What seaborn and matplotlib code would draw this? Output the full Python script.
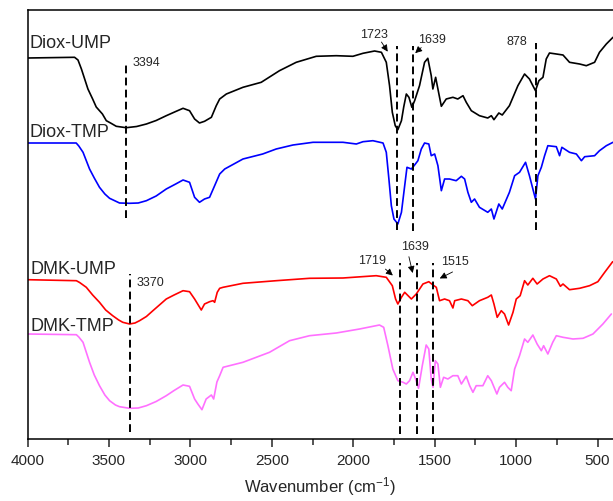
import numpy as np
import pandas as pd
import matplotlib
matplotlib.use("Agg")
import matplotlib.pyplot as plt
import seaborn as sns

# FTIR spectra, y = offset transmittance (arb. units)
diox_ump_wn = [4000, 3711, 3690, 3669, 3629, 3600, 3578, 3540, 3516, 3490, 3455, 3394, 3330, 3270, 3210,
               3148, 3090, 3045, 3005, 2974, 2944, 2913,
               2871, 2841, 2820, 2779, 2677, 2565, 2453, 2350, 2227, 2104, 2002, 1940, 1869, 1827, 1797,
               1777, 1760, 1742, 1726, 1704, 1690, 1674, 1658, 1640, 1623, 1593, 1562, 1542, 1521, 1511,
               1494, 1480, 1459, 1429, 1388, 1358, 1326, 1306, 1275, 1225, 1174, 1152, 1136, 1106, 1085,
               1041, 989, 948, 918, 897, 881, 860, 835, 815, 795, 753, 712, 672, 610, 569, 518, 488, 446, 405]
diox_ump_y = [381, 381.7, 379, 370, 350, 340, 332, 325, 318.3, 316, 312.7, 311.3, 312.5, 315, 318.5,
              323.3, 327.5, 330.7, 328.3, 320, 316, 317.7,
              321.7, 333.3, 340, 345, 351.7, 356.7, 368.3, 376.7, 382.7, 383.3, 382.7, 385.7, 388, 386.7, 376.7,
              353.3, 326.7, 313.3, 309.3, 318.3, 332, 345, 341.7, 331.7, 338.3, 353.3, 376.7, 380.7, 363.3, 350,
              361.7, 350, 332.7, 340, 341.7, 340, 343.3, 336.7, 328.3, 323.3, 321, 323.3, 319.3, 326, 324,
              333.3, 353.3, 365, 360, 353.3, 348.3, 358.3, 361.7, 380, 386, 385, 384, 376.7, 375, 373.3, 376.7,
              386.7, 395, 401.7]

diox_tmp_wn = [4000, 3701, 3685, 3659, 3619, 3590, 3558, 3525, 3496, 3435, 3373, 3320, 3270, 3210, 3148,
               3090, 3045, 3005, 2974, 2944, 2913,
               2882, 2851, 2820, 2789, 2677, 2556, 2473, 2370, 2247, 2063, 1981, 1940, 1879, 1817, 1797,
               1781, 1766, 1750, 1726, 1704, 1684, 1670, 1643, 1623, 1603, 1582, 1562, 1536, 1521, 1500,
               1480, 1459, 1439, 1409, 1368, 1336, 1316, 1296, 1275, 1255, 1225, 1174, 1152, 1136, 1106,
               1085, 1041, 1009, 979, 942, 918, 897, 881, 866, 845, 825, 805, 753, 733, 719, 672, 630,
               599, 579, 518, 488, 446, 405]
diox_tmp_y = [296, 296, 293, 286.7, 270, 261, 251.7, 245, 240.7, 236, 235.7, 236, 238.3, 243, 250,
              255, 259, 256.7, 241.7, 236.7, 240,
              241.7, 253.3, 265, 270, 280, 285, 290, 294, 296.7, 296.7, 295, 297.3, 298.3, 296, 286.7,
              260, 233.3, 220, 215, 226.7, 253.3, 271.7, 270, 274, 278.3, 290, 296, 295, 283.3, 285,
              273.3, 248.3, 260, 260, 258.3, 262.7, 260, 246.7, 236.7, 240, 231.7, 226.7, 230, 220, 235,
              230, 246.7, 263.3, 266.7, 276.7, 263.3, 250, 240, 263.3, 271.7, 283.3, 293.3, 292.3, 283.3,
              291.7, 286.7, 285, 278.3, 282.3, 283.3, 288.3, 293.3, 296.7]

dmk_ump_wn = [4000, 3700, 3680, 3639, 3600, 3558, 3520, 3477, 3440, 3415, 3373, 3340, 3312, 3270, 3230,
              3190, 3148, 3100, 3045, 3005, 2974, 2933, 2913,
              2882, 2861, 2851, 2835, 2820, 2799, 2677, 2473, 2268, 2063, 1859, 1797, 1760, 1740, 1726,
              1704, 1684, 1643, 1613, 1572, 1536, 1510, 1490, 1470, 1439, 1409, 1388, 1377, 1336, 1296,
              1269, 1225, 1174, 1152, 1136, 1116, 1091, 1071, 1046, 1019, 999, 975, 948, 928, 897, 871,
              835, 795, 753, 728, 712, 672, 610, 549, 498, 456, 407]
dmk_ump_y = [159.3, 158.3, 156.5, 151.7, 144, 136.7, 129, 123.3, 119, 116.7, 115, 116, 118.3, 122.5, 128.3,
             134, 140, 144, 148.3, 147.3, 140, 129, 135,
             137.3, 138.3, 136.7, 146.7, 150.7, 151.7, 155.7, 158.3, 160.7, 161, 163.3, 161.7, 153.3, 140, 135,
             141.7, 146.7, 140, 145, 155, 157.3, 154, 151.7, 138.3, 140, 138.3, 131, 138.3, 140, 138.3,
             133.3, 138.3, 141.7, 144, 135, 121.7, 128.3, 125, 114, 126.7, 140, 143.3, 158.3, 154, 160.7, 155,
             160, 163.3, 160, 152.7, 155, 149.3, 150.7, 153.3, 157.3, 166.7, 177.3]

dmk_tmp_wn = [4000, 3700, 3685, 3659, 3619, 3590, 3558, 3525, 3496, 3460, 3435, 3373, 3320, 3270, 3210,
              3148, 3100, 3045, 3005, 2974, 2954, 2929,
              2903, 2871, 2857, 2837, 2820, 2799, 2677, 2514, 2391, 2268, 2104, 1961, 1839, 1813, 1787,
              1757, 1726, 1694, 1674, 1654, 1633, 1617, 1599, 1576, 1552, 1536, 1521, 1510, 1496, 1480,
              1465, 1445, 1419, 1388, 1358, 1336, 1306, 1285, 1265, 1245, 1204, 1174, 1152, 1118, 1102,
              1071, 1051, 1030, 1009, 979, 948, 928, 897, 871, 845, 831, 805, 775, 753, 712, 651, 589,
              528, 467, 415]
dmk_tmp_y = [105, 104.3, 102, 96.7, 76.7, 64, 53.3, 44, 38.3, 34, 32.3, 30.7, 31, 33.3, 37.5,
             43.3, 48.5, 54, 52.7, 40, 35, 29.3,
             40, 44, 40, 57, 63.3, 71.7, 76.7, 86.7, 98.3, 103.3, 106, 110, 114, 111.7, 93.3,
             70, 58.3, 56.7, 55, 58.3, 66.7, 60, 50.7, 73.3, 94, 90, 60, 51.7, 78.3, 75,
             51.7, 61.7, 60, 63.3, 63.3, 55, 62.7, 53.3, 46.7, 53.3, 53.3, 63.3, 58.3, 45, 51.7,
             56.7, 51.7, 48.3, 70, 83.3, 100, 96.7, 104, 95, 88.3, 93.3, 85, 96.7, 103.3, 101.7, 100, 100.7,
             105, 115, 125]

series_names = ["Diox-UMP", "Diox-TMP", "DMK-UMP", "DMK-TMP"]
series_colors = ["black", "#0000FF", "#FF0000", "#FF70FF"]
label_wn = [3989, 3989, 3980, 3980]
label_y = [392, 303.3, 165.7, 109]

# dashed marker lines: (wavenumber, ymin, ymax)
upper_lines = [(3394, 221, 377), (1733, 209, 393), (1631, 208, 393), (878, 209, 396)]
lower_lines = [(3371, 7, 165), (1713, 5, 176), (1607, 5, 176), (1510, 5, 176)]

# peak labels without arrows
plain_peaks = [("3394", 3352, 376.5), ("878", 995, 398.3), ("3370", 3330, 156.7)]
# peak labels with arrows: text, text pos, arrow tail, arrow tip
arrow_peaks = [("1723", (1874, 404.7), (1836, 399.3), (1779, 385)),
               ("1639", (1516, 400), (1570, 393.3), (1632, 384)),
               ("1719", (1887, 179.3), (1815, 171.7), (1744, 161.7)),
               ("1639", (1621, 192.7), (1662, 185), (1631, 163.3)),
               ("1515", (1375, 178.3), (1375, 168.3), (1484, 159.3))]

sns.set_theme(style="ticks")
plt.rcParams['font.family'] = ['Liberation Sans', 'DejaVu Sans']
plt.rcParams['mathtext.fontset'] = 'custom'
plt.rcParams['mathtext.rm'] = 'Liberation Sans'
plt.rcParams['mathtext.it'] = 'Liberation Sans'

fig = plt.figure(figsize=(6.13, 5.02), dpi=100)
ax = fig.add_axes([27.5 / 613, 62 / 502, 585.5 / 613, 429 / 502])

all_wn = [diox_ump_wn, diox_tmp_wn, dmk_ump_wn, dmk_tmp_wn]
all_y = [diox_ump_y, diox_tmp_y, dmk_ump_y, dmk_tmp_y]
for wn, y, name, col in zip(all_wn, all_y, series_names, series_colors):
    df = pd.DataFrame({"wn": wn, "y": y})
    sns.lineplot(data=df, x="wn", y="y", color=col, lw=1.2, ax=ax, sort=False)

for name, xw, yy in zip(series_names, label_wn, label_y):
    ax.text(xw, yy, name, fontsize=13, ha="left", va="baseline")

for x, y0, y1 in upper_lines + lower_lines:
    ax.plot([x, x], [y0, y1], color="black", lw=1.4, linestyle=(0, (4, 2.2)))

for txt, xw, yy in plain_peaks:
    ha = "center" if txt == "878" else "left"
    ax.text(xw, yy, txt, fontsize=9, ha=ha, va="center")

for txt, tpos, tail, tip in arrow_peaks:
    ax.text(tpos[0], tpos[1], txt, fontsize=9, ha="center", va="center")
    ax.annotate("", xy=tip, xytext=tail,
                arrowprops=dict(arrowstyle="-|>", color="black", lw=0.6, mutation_scale=10))

ax.set_xlim(4000, 405)
ax.set_ylim(0, 429)
ax.set_xticks([4000, 3500, 3000, 2500, 2000, 1500, 1000, 500])
ax.set_xticks(np.arange(3750, 400, -500), minor=True)
ax.set_yticks([])
ax.tick_params(axis="x", which="major", direction="out", length=6, width=1.1, labelsize=11, pad=4)
ax.tick_params(axis="x", which="minor", direction="out", length=4, width=1.1)
ax.set_xlabel("Wavenumber (cm$^{-1}$)", fontsize=12, labelpad=5)
ax.set_ylabel("")
for side in ["left", "bottom", "top"]:
    ax.spines[side].set_visible(True)
    ax.spines[side].set_linewidth(1.1)
    ax.spines[side].set_color("black")
ax.spines["right"].set_visible(False)

fig.savefig("out.png", dpi=100)
